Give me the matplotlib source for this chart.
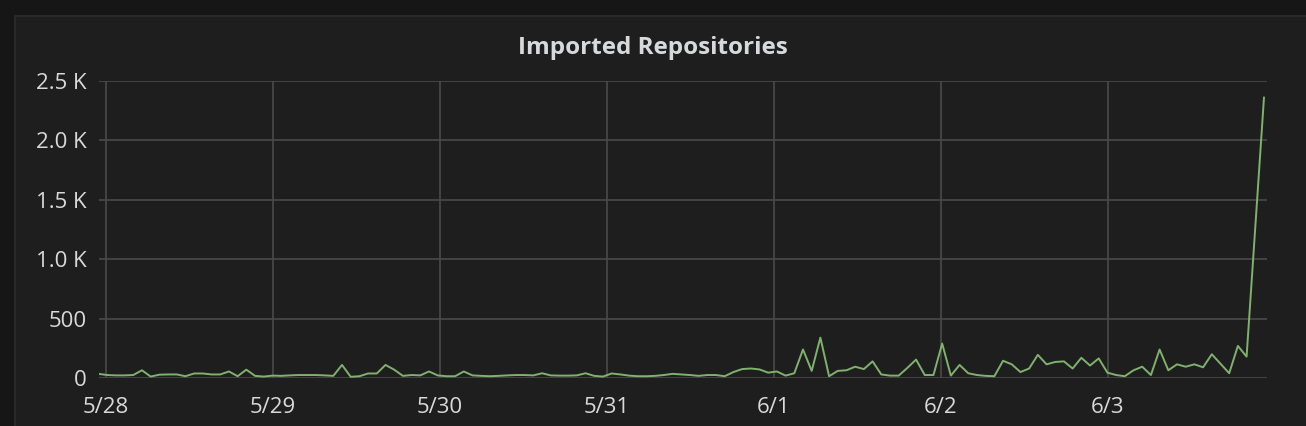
import numpy as np
import pandas as pd
import matplotlib
matplotlib.use("Agg")
import matplotlib.pyplot as plt
import matplotlib.dates as mdates
from matplotlib.patches import Rectangle
from matplotlib.ticker import FuncFormatter

# data: imported repositories, one sample every 75 minutes
start = pd.Timestamp("2017-05-27 22:55")
step_minutes = 75
imported = [
    35, 25, 22, 22, 25, 65, 12, 28, 30, 30,
    15, 38, 38, 30, 30, 55, 15, 70, 18, 12,
    20, 18, 22, 25, 25, 25, 22, 18, 110, 10,
    15, 38, 38, 110, 70, 18, 25, 22, 55, 22,
    15, 15, 55, 22, 18, 15, 18, 22, 25, 25,
    22, 40, 22, 20, 20, 22, 40, 18, 12, 38,
    30, 20, 15, 15, 18, 25, 35, 30, 25, 18,
    25, 25, 15, 50, 75, 80, 72, 45, 55, 20,
    40, 240, 60, 340, 15, 60, 65, 95, 75, 140,
    30, 20, 20, 85, 155, 25, 25, 290, 20, 110,
    40, 25, 18, 15, 145, 115, 50, 80, 195, 115,
    135, 140, 80, 170, 105, 165, 45, 25, 15, 65,
    95, 25, 240, 65, 115, 95, 115, 90, 200, 120,
    40, 270, 180, 1270, 2360,
]
times = start + pd.to_timedelta(np.arange(len(imported)) * step_minutes, unit="min")

y_ticks = [0, 500, 1000, 1500, 2000, 2500]
x_ticks = pd.date_range("2017-05-28", "2017-06-03", freq="D")

# colours (grafana dark)
page_bg = "#161616"
panel_bg = "#1f1e1f"
panel_edge = "#292929"
grid_col = "#4a4a4a"
text_col = "#d8d9da"
line_col = "#7eb26d"

plt.rcParams["font.family"] = ["Open Sans", "DejaVu Sans"]

fig = plt.figure(figsize=(13.06, 4.26), dpi=100, facecolor=page_bg)
fig.patches.append(Rectangle((15 / 1306, -0.1), 1.1, 1 - 16 / 426 + 0.1,
                             transform=fig.transFigure, facecolor=panel_bg,
                             edgecolor=panel_edge, linewidth=1.5, zorder=-5))

ax = fig.add_axes([99 / 1306, 1 - 378 / 426, (1267 - 99) / 1306, (378 - 81) / 426])
ax.set_facecolor("none")
ax.plot(times, imported, color=line_col, linewidth=1.4, zorder=3)

x0 = pd.Timestamp("2017-05-28") - pd.Timedelta(days=7 / 167)
x1 = pd.Timestamp("2017-05-28") + pd.Timedelta(days=(1267 - 106) / 167)
ax.set_xlim(x0, x1)
ax.set_ylim(0, 2500)

ax.set_yticks(y_ticks)
ax.yaxis.set_major_formatter(FuncFormatter(
    lambda v, p: "0" if v == 0 else ("{:.0f}".format(v) if v < 1000 else "{:.1f} K".format(v / 1000))))
ax.set_xticks(x_ticks)
ax.xaxis.set_major_formatter(FuncFormatter(
    lambda v, p: "{}/{}".format(mdates.num2date(v).month, mdates.num2date(v).day)))

ax.grid(True, color=grid_col, linewidth=1.2)
ax.set_axisbelow(True)
for s in ax.spines.values():
    s.set_visible(False)
ax.tick_params(length=0, colors=text_col, labelsize=16, pad=9)
ax.tick_params(axis="x", pad=14)

fig.text(0.5, 1 - 48 / 426, "Imported Repositories", color=text_col,
         fontsize=17.5, fontweight="bold", ha="center", va="center")

fig.savefig("out.png", dpi=100, facecolor=page_bg)
